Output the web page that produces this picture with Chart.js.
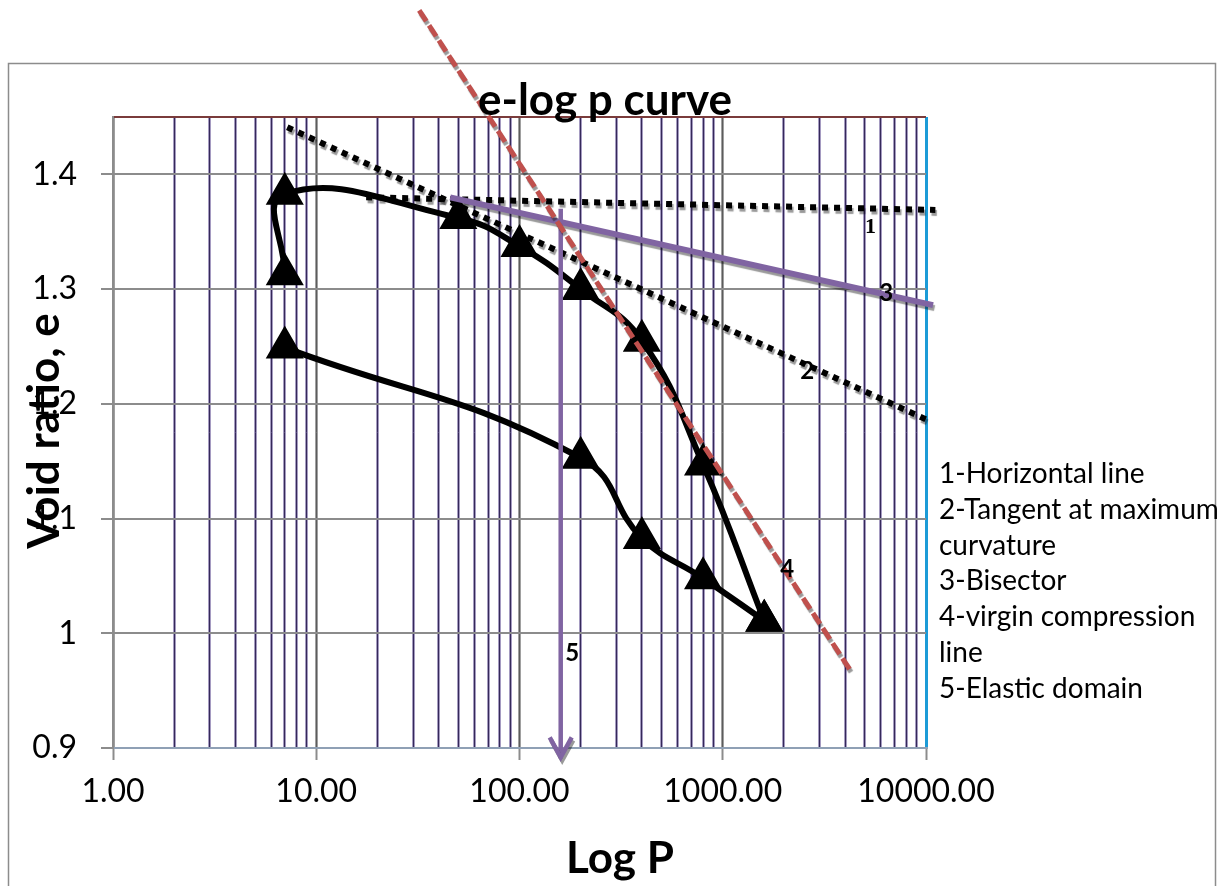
<!DOCTYPE html>
<html>
<head>
<meta charset="utf-8">
<script src="https://cdn.jsdelivr.net/npm/chart.js@4/dist/chart.umd.min.js"></script>
<style>
  html, body { margin: 0; padding: 0; background: #fff; }
  #wrap { width: 1223px; height: 886px; position: relative; }
</style>
</head>
<body>
<div id="wrap"><canvas id="chartElog"></canvas></div>
<script>
// oedometer test, loading branch then unloading branch
const loadP = [7, 7, 50, 100, 200, 400, 800, 1600];
const loadE = [1.313, 1.383, 1.362, 1.3375, 1.300, 1.255, 1.147, 1.011];
const unloadP = [1600, 800, 400, 200, 7];
const unloadE = [1.011, 1.048, 1.083, 1.153, 1.249];

// construction lines (end points)
const horizP = [17.6, 11120];
const horizE = [1.380, 1.369];
const tangentP = [7.2, 10120];
const tangentE = [1.441, 1.186];
const bisectorP = [45.6, 10830];
const bisectorE = [1.380, 1.286];
const virginP = [32.1, 4232];
const virginE = [1.543, 0.968];
const elasticP = [159.5, 159.5];
const elasticE = [1.370, 0.891];

// little numbers next to the lines
const lineTags = ["1", "2", "3", "4", "5"];
const tagP = [5327, 2604, 6368, 2075, 181.6];
const tagE = [1.354, 1.2286, 1.2966, 1.056, 0.9827];

const legendLines = ["1-Horizontal line", "2-Tangent at maximum", "curvature", "3-Bisector",
  "4-virgin compression", "line", "5-Elastic domain"];

const xDecades = [1, 10, 100, 1000, 10000];
const xTickLabels = ["1.00", "10.00", "100.00", "1000.00", "10000.00"];
const yTicks = [0.9, 1.0, 1.1, 1.2, 1.3, 1.4];
const yTop = 1.45;

const FONT = "Lato";

function pts(xs, ys) {
  return xs.map((x, i) => ({ x: x, y: ys[i] }));
}

function isDecade(v) {
  const k = Math.log10(v);
  return Math.abs(k - Math.round(k)) < 1e-9;
}

// gridlines at 1..9 of every decade
function logTicks() {
  const out = [];
  for (let d = 0; d < xDecades.length - 1; d++) {
    for (let m = 1; m <= 9; m++) out.push({ value: m * xDecades[d], major: m === 1 });
  }
  out.push({ value: xDecades[xDecades.length - 1], major: true });
  return out;
}

const shadowPlugin = {
  id: "shadow",
  beforeDatasetDraw(chart, args) {
    if (!chart.data.datasets[args.index].shadow) return;
    const ctx = chart.ctx;
    ctx.save();
    ctx.shadowColor = "rgba(0,0,0,0.4)";
    ctx.shadowOffsetX = 1.5;
    ctx.shadowOffsetY = 3;
    ctx.shadowBlur = 1;
  },
  afterDatasetDraw(chart, args) {
    if (chart.data.datasets[args.index].shadow) chart.ctx.restore();
  }
};

const decor = {
  id: "decor",
  beforeDraw(chart) {
    const ctx = chart.ctx;
    ctx.save();
    ctx.fillStyle = "#fff";
    ctx.fillRect(0, 0, chart.width, chart.height);
    ctx.strokeStyle = "#8c8c8c";
    ctx.lineWidth = 1.5;
    ctx.strokeRect(8.5, 63.5, 1207, 900);
    ctx.restore();
  },
  afterDatasetsDraw(chart) {
    const ctx = chart.ctx;
    const xs = chart.scales.x, ys = chart.scales.y;

    // arrow head on the elastic domain line
    const meta = chart.getDatasetMeta(chart.data.datasets.findIndex(d => d.id === "elastic"));
    const tip = meta.data[meta.data.length - 1];
    ctx.save();
    ctx.shadowColor = "rgba(0,0,0,0.4)";
    ctx.shadowOffsetX = 1.5;
    ctx.shadowOffsetY = 3;
    ctx.strokeStyle = "#8064a2";
    ctx.lineWidth = 4.5;
    ctx.lineJoin = "miter";
    ctx.beginPath();
    ctx.moveTo(tip.x - 11, tip.y - 21);
    ctx.lineTo(tip.x, tip.y - 1);
    ctx.lineTo(tip.x + 11, tip.y - 21);
    ctx.stroke();
    ctx.restore();

    // line numbers
    ctx.save();
    ctx.fillStyle = "#000";
    ctx.textAlign = "center";
    ctx.textBaseline = "middle";
    lineTags.forEach((t, i) => {
      ctx.font = t === "1" ? "bold 22px 'Liberation Serif'" : "bold 24px " + FONT;
      ctx.fillText(t, xs.getPixelForValue(tagP[i]), ys.getPixelForValue(tagE[i]));
    });
    ctx.restore();
  },
  afterDraw(chart) {
    const ctx = chart.ctx;
    ctx.save();
    ctx.fillStyle = "#000";

    // title
    ctx.font = "bold 44px " + FONT;
    ctx.textAlign = "center";
    ctx.textBaseline = "alphabetic";
    ctx.fillText("e-log p curve", 605, 115);

    // axis titles
    ctx.fillText("Log P", 620, 873);
    ctx.save();
    ctx.translate(59, 431);
    ctx.rotate(-Math.PI / 2);
    ctx.fillText("Void ratio, e", 0, 0);
    ctx.restore();

    // text box on the right
    ctx.font = "28px " + FONT;
    ctx.textAlign = "left";
    ctx.textBaseline = "middle";
    legendLines.forEach((s, i) => ctx.fillText(s, 939, 474 + i * 35.8));
    ctx.restore();
  }
};

const ctx = document.getElementById("chartElog").getContext("2d");

new Chart(ctx, {
  type: "line",
  data: {
    datasets: [
      {
        id: "virgin",
        data: pts(virginP, virginE),
        borderColor: "#c0504d",
        borderWidth: 5,
        borderDash: [13, 5],
        pointRadius: 0,
        clip: false,
        shadow: true,
        order: 1
      },
      {
        id: "elastic",
        data: pts(elasticP, elasticE),
        borderColor: "#8064a2",
        borderWidth: 4.5,
        pointRadius: 0,
        clip: false,
        order: 2
      },
      {
        id: "bisector",
        data: pts(bisectorP, bisectorE),
        borderColor: "#8064a2",
        borderWidth: 6,
        pointRadius: 0,
        clip: false,
        shadow: true,
        order: 2
      },
      {
        id: "horiz",
        data: pts(horizP, horizE),
        borderColor: "#000",
        borderWidth: 6,
        borderDash: [6, 6],
        pointRadius: 0,
        clip: false,
        shadow: true,
        order: 3
      },
      {
        id: "tangent",
        data: pts(tangentP, tangentE),
        borderColor: "#000",
        borderWidth: 6,
        borderDash: [6, 6],
        pointRadius: 0,
        clip: false,
        shadow: true,
        order: 3
      },
      {
        id: "loading",
        data: pts(loadP, loadE),
        borderColor: "#000",
        borderWidth: 6,
        tension: 0.45,
        pointStyle: "triangle",
        pointRadius: 16,
        pointBackgroundColor: "#000",
        pointBorderColor: "#000",
        clip: false,
        order: 5
      },
      {
        id: "unloading",
        data: pts(unloadP, unloadE),
        borderColor: "#000",
        borderWidth: 6,
        tension: 0.45,
        pointStyle: "triangle",
        pointRadius: 16,
        pointBackgroundColor: "#000",
        pointBorderColor: "#000",
        clip: false,
        order: 5
      }
    ]
  },
  options: {
    responsive: true,
    maintainAspectRatio: false,
    animation: false,
    layout: { padding: { left: 0, top: 117, right: 297, bottom: 0 } },
    plugins: {
      legend: { display: false },
      tooltip: { enabled: false },
      title: { display: false }
    },
    scales: {
      x: {
        type: "logarithmic",
        position: "bottom",
        min: 1,
        max: 10000,
        afterBuildTicks: s => { s.ticks = logTicks(); },
        afterFit: s => { s.height = 138; },
        border: { color: "#8fa0b5", width: 2 },
        grid: {
          lineWidth: 3,
          tickLength: 12,
          color: c => {
            const v = c.tick ? c.tick.value : 0;
            if (v === 10000) return "#1c9bd7";
            return isDecade(v) ? "#a0a0a0" : "#a59bc1";
          },
          tickColor: c => (c.tick && isDecade(c.tick.value) ? "#8c8c8c" : "rgba(0,0,0,0)"),
          tickWidth: 2
        },
        ticks: {
          autoSkip: false,
          maxRotation: 0,
          padding: 12,
          color: "#000",
          font: { family: FONT, size: 32 },
          callback: v => (isDecade(v) ? xTickLabels[Math.round(Math.log10(v))] : "")
        }
      },
      xLine: {
        type: "logarithmic",
        position: "top",
        min: 1,
        max: 10000,
        afterBuildTicks: s => { s.ticks = logTicks(); },
        afterFit: s => { s.height = 0; },
        border: { display: false },
        grid: {
          lineWidth: 1,
          drawTicks: false,
          color: c => {
            const v = c.tick ? c.tick.value : 0;
            if (v === 10000 || v === 1) return "rgba(0,0,0,0)";
            return isDecade(v) ? "#5c5c5c" : "#35295a";
          }
        },
        ticks: { display: false }
      },
      y: {
        type: "linear",
        min: 0.9,
        max: yTop,
        afterBuildTicks: s => { s.ticks = yTicks.concat([yTop]).map(v => ({ value: v })); },
        afterFit: s => { s.width = 113; },
        border: { color: "#8c8c8c", width: 2 },
        grid: {
          lineWidth: 2,
          tickLength: 12,
          color: c => {
            const v = c.tick ? c.tick.value : 0;
            if (v === yTop) return "#7a3b3b";
            if (v === 0.9) return "#8fa0b5";
            return "#8c8c8c";
          },
          tickColor: c => (c.tick && c.tick.value === yTop ? "rgba(0,0,0,0)" : "#8c8c8c"),
          tickWidth: 2
        },
        ticks: {
          padding: 24,
          color: "#000",
          font: { family: FONT, size: 32 },
          callback: v => (v === yTop ? "" : String(Math.round(v * 10) / 10))
        }
      }
    }
  },
  plugins: [shadowPlugin, decor]
});
</script>
</body>
</html>
